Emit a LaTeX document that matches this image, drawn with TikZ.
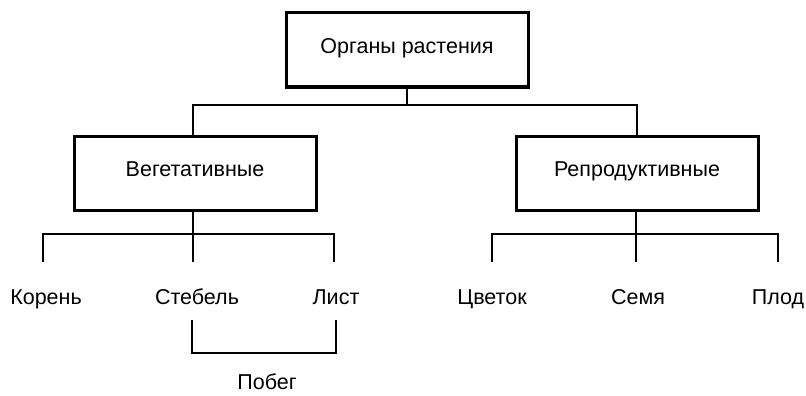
\documentclass[tikz,border=0pt]{standalone}
\usepackage{fontspec}
\setmainfont{Liberation Sans}
\begin{document}
\begin{tikzpicture}[x=1pt,y=1pt,
  txt/.style={font=\fontsize{21.5}{24}\selectfont,text height=0.72em,text depth=0pt},
  box/.style={txt,draw,line width=3pt,minimum width=242pt,minimum height=74pt,inner sep=0pt},
  lbl/.style={txt,inner sep=0pt},
  conn/.style={line width=1.8pt}]
\useasboundingbox (0,0) rectangle (806,-396);
\node[box] (root) at (407,-50) {Органы растения};
\node[box] (veg) at (195,-173) {Вегетативные};
\node[box] (rep) at (637,-173) {Репродуктивные};
\node[lbl] (koren) at (46,-300.5) {Корень};
\node[lbl] (stebel) at (197,-300.5) {Стебель};
\node[lbl] (list) at (336,-300.5) {Лист};
\node[lbl] (cvetok) at (492,-300.5) {Цветок};
\node[lbl] (semya) at (638,-300.5) {Семя};
\node[lbl] (plod) at (778,-300.5) {Плод};
\node[lbl] (pobeg) at (267,-386) {Побег};
% top level
\coordinate (j1) at (0,-105);
\draw[conn] (root.south) -- (root.south |- j1);
\draw[conn] ([xshift=-2pt]veg.north) |- (j1 -| rep.north) -- (rep.north);
% vegetative
\coordinate (v1) at (43,-262);
\coordinate (v2) at (193,-262);
\coordinate (v3) at (334,-262);
\coordinate (vh) at (0,-234);
\draw[conn] (veg.south -| v2) -- (v2);
\draw[conn] (v1) -- (v1 |- vh) -- (v3 |- vh) -- (v3);
% reproductive
\coordinate (r1) at (492,-262);
\coordinate (r2) at (636,-262);
\coordinate (r3) at (778,-262);
\draw[conn] (rep.south -| r2) -- (r2);
\draw[conn] (r1) -- (r1 |- vh) -- (r3 |- vh) -- (r3);
% bracket
\coordinate (b1) at (192,-320);
\coordinate (b2) at (336,-320);
\coordinate (bh) at (0,-353);
\draw[conn] (b1) -- (b1 |- bh) -- (b2 |- bh) -- (b2);
\end{tikzpicture}
\end{document}
